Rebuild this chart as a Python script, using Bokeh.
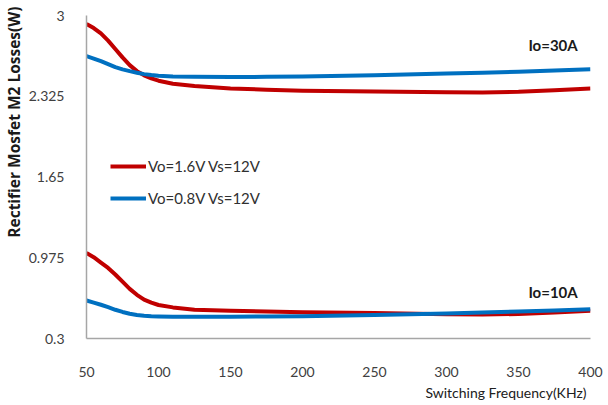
from bokeh.plotting import figure
from bokeh.models import Range1d, FixedTicker, Legend, LegendItem, Label, Title
from bokeh.embed import file_html
from bokeh.resources import INLINE

# Data
freq = [50, 55, 60, 65, 70, 75, 80, 85, 90, 95, 100, 110, 125, 150, 175, 200, 250, 300, 325, 350, 375, 400]

red_30 = [2.93, 2.895, 2.85, 2.79, 2.72, 2.65, 2.585, 2.535, 2.50, 2.475, 2.455, 2.43, 2.41, 2.39,
          2.38, 2.372, 2.365, 2.358, 2.356, 2.362, 2.375, 2.39]
blue_30 = [2.66, 2.64, 2.618, 2.593, 2.568, 2.55, 2.535, 2.522, 2.51, 2.502, 2.497, 2.49, 2.487, 2.485,
           2.487, 2.49, 2.50, 2.515, 2.522, 2.53, 2.54, 2.55]
red_10 = [1.015, 0.98, 0.935, 0.89, 0.835, 0.775, 0.715, 0.665, 0.625, 0.60, 0.58, 0.56, 0.54, 0.532,
          0.526, 0.52, 0.513, 0.503, 0.50, 0.505, 0.518, 0.532]
blue_10 = [0.618, 0.60, 0.582, 0.562, 0.54, 0.522, 0.507, 0.497, 0.49, 0.486, 0.484, 0.482, 0.482, 0.482,
           0.484, 0.487, 0.497, 0.51, 0.517, 0.525, 0.535, 0.545]

series_names = ["Vo=1.6V Vs=12V", "Vo=0.8V Vs=12V"]
y_ticks = [0.3, 0.975, 1.65, 2.325, 3]
y_tick_labels = ["0.3", "0.975", "1.65", "2.325", "3"]
x_ticks = [50, 100, 150, 200, 250, 300, 350, 400]

RED = "#C00000"
BLUE = "#0070C0"
FONT = "Lato"

p = figure(width=608, height=405, output_backend="svg", toolbar_location=None,
           x_range=Range1d(50, 400), y_range=Range1d(0.3, 3),
           min_border_left=83, min_border_right=18, min_border_top=15, min_border_bottom=67)
p.outline_line_color = None
p.xgrid.grid_line_color = None
p.ygrid.grid_line_color = None

r1 = p.line(freq, red_30, line_color=RED, line_width=4, line_join="round")
p.line(freq, red_10, line_color=RED, line_width=4, line_join="round")
r2 = p.line(freq, blue_30, line_color=BLUE, line_width=4, line_join="round")
p.line(freq, blue_10, line_color=BLUE, line_width=4, line_join="round")

for ax in (p.xaxis[0], p.yaxis[0]):
    ax.axis_line_color = "#A6A6A6"
    ax.axis_line_width = 1.5
    ax.major_tick_line_color = None
    ax.minor_tick_line_color = None
    ax.major_label_text_font = FONT
    ax.major_label_text_font_size = "14px"
    ax.major_label_text_color = "#404040"

p.xaxis.ticker = FixedTicker(ticks=x_ticks)
p.yaxis.ticker = FixedTicker(ticks=y_ticks)
p.yaxis.major_label_overrides = {t: s for t, s in zip(y_ticks, y_tick_labels)}
p.xaxis.major_label_standoff = 22
p.yaxis.major_label_standoff = 16

# axis titles
p.add_layout(Title(text="Switching Frequency(KHz)", align="right", text_font=FONT,
                   text_font_size="14px", text_font_style="normal", text_color="#202020",
                   standoff=4, offset=4), "below")
p.add_layout(Title(text="Rectifier Mosfet M2 Losses(W)", align="right", text_font="Open Sans",
                   text_font_size="15.5px", text_font_style="bold", text_color="#1a1a1a",
                   standoff=1, offset=-9), "left")

legend = Legend(items=[LegendItem(label=series_names[0], renderers=[r1]),
                       LegendItem(label=series_names[1], renderers=[r2])],
                location=(24, 130), background_fill_alpha=0, border_line_alpha=0,
                glyph_width=36, glyph_height=20, label_standoff=2, spacing=12, padding=0,
                label_text_font=FONT, label_text_font_size="15px", label_text_color="#303030")
p.add_layout(legend, "center")

p.add_layout(Label(x=374, y=2.75, text="Io=30A", text_font=FONT, text_font_size="15px",
                   text_font_style="bold", text_align="center", text_baseline="middle",
                   text_color="#1a1a1a"))
p.add_layout(Label(x=374, y=0.69, text="Io=10A", text_font=FONT, text_font_size="15px",
                   text_font_style="bold", text_align="center", text_baseline="middle",
                   text_color="#1a1a1a"))

open("out.html", "w").write(file_html(p, INLINE))
